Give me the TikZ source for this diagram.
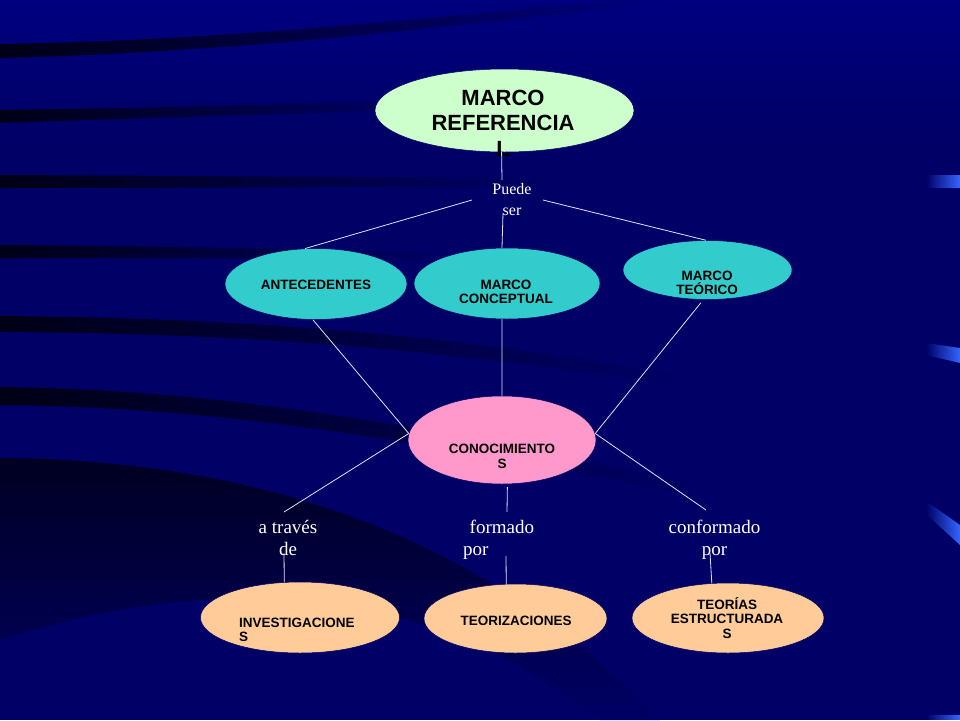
\documentclass[tikz,border=0pt]{standalone}
\usepackage{fontspec}
\setmainfont{Liberation Serif}
\newfontfamily\arialfont{Liberation Sans}
\usetikzlibrary{shapes.geometric,fadings}
\definecolor{bgnavy}{RGB}{0,0,102}
\definecolor{bgtop}{RGB}{0,0,128}
\definecolor{stripe}{RGB}{0,0,22}
\definecolor{mrgreen}{RGB}{204,255,204}
\definecolor{cyanbox}{RGB}{51,204,204}
\definecolor{pinkbox}{RGB}{255,153,204}
\definecolor{peachbox}{RGB}{255,204,153}
\definecolor{barblue}{RGB}{51,102,255}
\definecolor{linecol}{RGB}{225,225,255}
\tikzfading[name=faderight, left color=transparent!0, middle color=transparent!25, right color=transparent!100]
\tikzfading[name=fadeleft, left color=transparent!100, right color=transparent!0]
\tikzset{
  oval/.style={ellipse, inner sep=0pt, draw=black!60!blue, line width=0.5pt},
  boxtext/.style={font=\arialfont\bfseries\fontsize{13.5}{14.5}\selectfont, align=center, anchor=base, inner sep=0pt, text=black},
  linklabel/.style={font=\fontsize{19}{22}\selectfont, text=white, align=center, anchor=base, inner sep=0pt},
  conn/.style={draw=linecol, line width=0.8pt},
  stripeband/.style={fill=stripe, path fading=faderight},
  edgebar/.style={fill=barblue, path fading=fadeleft},
}
\begin{document}
\begin{tikzpicture}[x=1pt, y=-1pt]
\useasboundingbox (0,0) rectangle (960,720);
% background
\fill[bgnavy] (0,0) rectangle (960,720);
\shade[top color=bgtop, bottom color=bgnavy] (0,0) rectangle (960,140);
% dark stripes on the left
\fill[stripeband] (0,44) .. controls (250,40) and (450,15) .. (660,-4) -- (660,4) .. controls (450,25) and (250,52) .. (0,58) -- cycle;
\fill[stripeband] (0,110) .. controls (150,108) and (300,104) .. (440,100) -- (440,110) .. controls (300,113) and (150,118) .. (0,123) -- cycle;
\fill[stripeband] (0,175) .. controls (200,176) and (350,177) .. (540,178) -- (540,186) .. controls (350,187) and (200,188) .. (0,188) -- cycle;
\fill[stripeband] (0,245) .. controls (150,246) and (300,249) .. (440,252) -- (440,260) .. controls (300,258) and (150,258) .. (0,258) -- cycle;
\fill[stripeband] (0,316) .. controls (250,318) and (450,335) .. (680,375) -- (680,386) .. controls (450,350) and (250,333) .. (0,332) -- cycle;
\fill[stripeband] (0,387) .. controls (200,390) and (380,415) .. (700,485) -- (700,497) .. controls (380,432) and (200,407) .. (0,405) -- cycle;
\shade[top color=stripe, bottom color=bgnavy, opacity=0.85] (0,458) .. controls (250,460) and (480,530) .. (660,720) -- (600,720) .. controls (450,600) and (250,560) .. (0,640) -- cycle;
% right edge bars
\fill[edgebar] (926,175) -- (960,175) -- (960,188) -- (926,188) -- cycle;
\fill[edgebar] (926,343) -- (960,348) -- (960,363) -- (926,355) -- cycle;
\fill[edgebar] (926,501) -- (960,525) -- (960,545) -- (926,514) -- cycle;
\fill[edgebar] (926,715) -- (960,715) -- (960,720) -- (926,720) -- cycle;

% ellipses
\node[oval, fill=mrgreen, minimum width=259pt, minimum height=83pt] (mr) at (504.5,110.5) {};
\node[oval, fill=cyanbox, minimum width=182pt, minimum height=71pt] (ant) at (316,284) {};
\node[oval, fill=cyanbox, minimum width=186pt, minimum height=71pt] (mc) at (507,283.5) {};
\node[oval, fill=cyanbox, minimum width=169pt, minimum height=59pt] (mt) at (707.5,270) {};
\node[oval, fill=pinkbox, minimum width=188pt, minimum height=88pt] (conoc) at (502,440) {};
\node[oval, fill=peachbox, minimum width=199pt, minimum height=71pt] (inv) at (300,617.5) {};
\node[oval, fill=peachbox, minimum width=183pt, minimum height=69pt] (teor) at (515.5,618.5) {};
\node[oval, fill=peachbox, minimum width=192pt, minimum height=70pt] (te) at (728,618) {};

% texts in ellipses (base = baseline of the last line)
\node[boxtext, font=\arialfont\bfseries\fontsize{22}{25.2}\selectfont] (mrt) at (503,156.1) {MARCO\\REFERENCIA\\L};
\node[boxtext] (antt) at (316,289.5) {ANTECEDENTES};
\node[boxtext] (mct) at (506,303.8) {MARCO\\CONCEPTUAL};
\node[boxtext] (mtt) at (707,294.8) {MARCO\\TEÓRICO};
\node[boxtext, font=\arialfont\bfseries\fontsize{13.5}{15}\selectfont] (conoct) at (502,468.4) {CONOCIMIENTO\\S};
\node[boxtext, align=left, anchor=base west] (invt) at (239,641.9) {INVESTIGACIONE\\S};
\node[boxtext] (teort) at (516,625.1) {TEORIZACIONES};
\node[boxtext] (tet) at (727,638.2) {TEORÍAS\\ESTRUCTURADA\\S};

% link labels
\node[linklabel, font=\fontsize{16}{21}\selectfont] (puede) at (512,215.5) {Puede\\ser};
\node[linklabel] (atraves) at (288,555) {a través\\de};
\node[linklabel, align=left, anchor=base west] (formado) at (463,555) {\hspace*{6.5pt}formado\\por};
\node[linklabel] (conformado) at (714.5,555) {conformado\\por};

% connector ends at labels
\coordinate (pTop) at (502,180);
\coordinate (pL) at (472,200);
\coordinate (pR) at (543,200);
\coordinate (pB) at (503,213);
\coordinate (aTop) at (284,512);
\coordinate (aBot) at (284,553);
\coordinate (fTop) at (507,512);
\coordinate (fBot) at (506,556);
\coordinate (cTop) at (706,510);
\coordinate (cBot) at (710,553);

% connectors
\draw[conn] (mr.266) -- (pTop);
\draw[conn] (pL) -- (ant.107);
\draw[conn] (pB) -- (mc.98);
\draw[conn] (pR) -- (mt.93);
\draw[conn] (ant.265) -- (conoc.176);
\draw[conn] (mc.262) -- (conoc.north);
\draw[conn, shorten <=4pt] (mt.262) -- (conoc.4);
\draw[conn] (conoc.176) -- (aTop);
\draw[conn, shorten <=3pt] (conoc.277) -- (fTop);
\draw[conn] (conoc.4) -- (cTop);
\draw[conn] (aBot) -- (inv.114);
\draw[conn] (fBot) -- (teor.105);
\draw[conn] (cBot) -- (te.115);
\end{tikzpicture}
\end{document}
